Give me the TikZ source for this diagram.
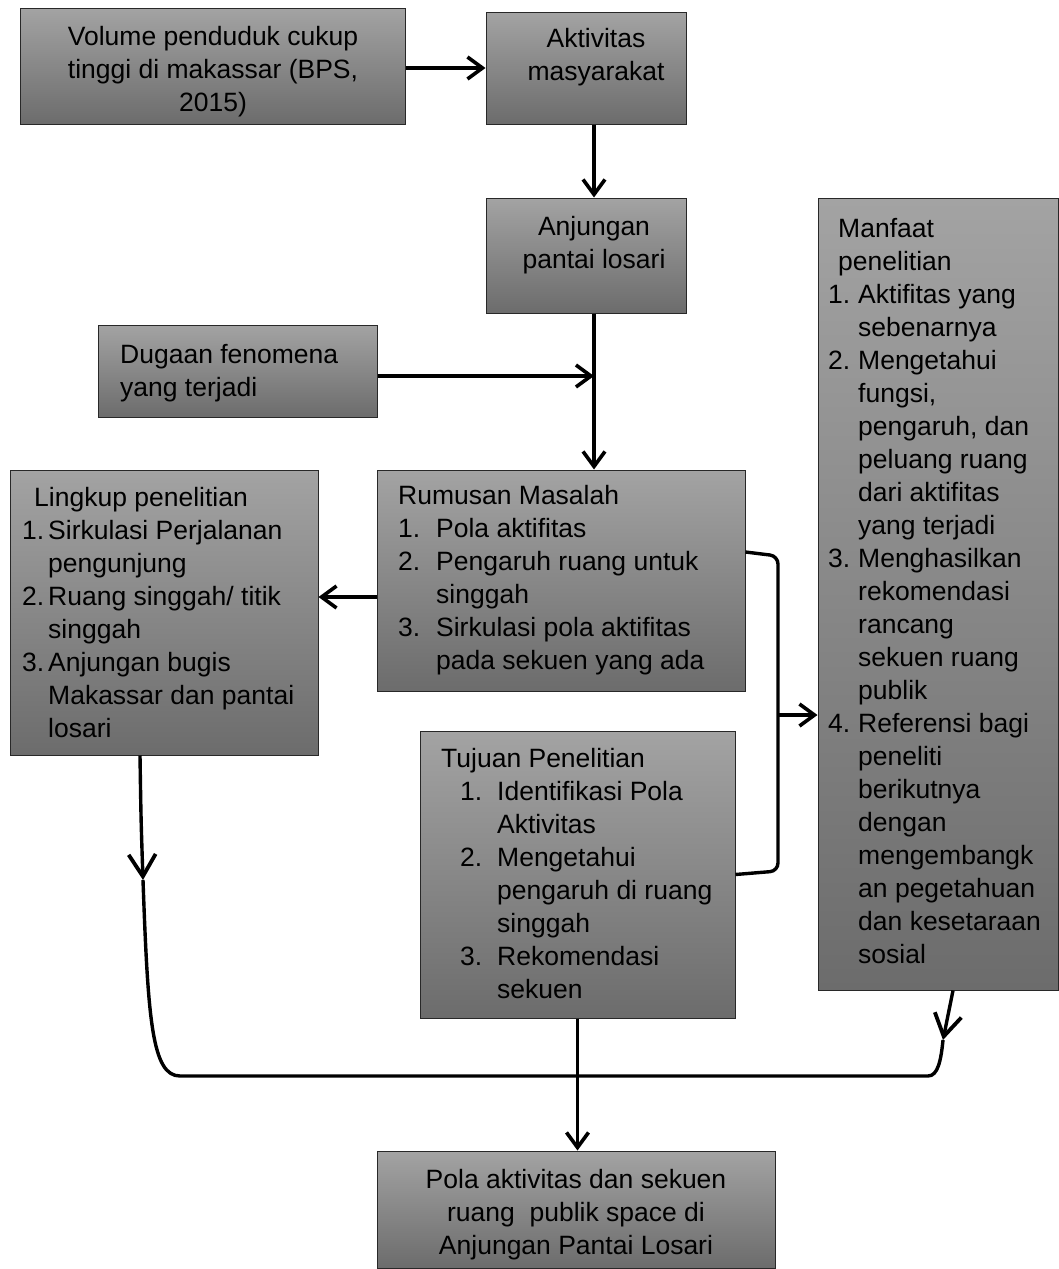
\documentclass[tikz,border=0pt]{standalone}
\usepackage{fontspec}
\setmainfont{Liberation Sans}
\usetikzlibrary{arrows.meta}
\definecolor{gtop}{RGB}{163,163,163}
\definecolor{gbot}{RGB}{108,108,108}
\definecolor{edgec}{RGB}{40,40,40}
\newcommand{\nb}[2]{\makebox[#1][l]{#2}}
\begin{document}
\begin{tikzpicture}[x=1pt,y=-1pt,
 box/.style={draw=edgec, line width=1pt, top color=gtop, bottom color=gbot, inner sep=0pt},
 txt/.style={inner sep=0pt, font=\fontsize{26.5}{33}\selectfont, text=black},
 conn/.style={line width=3.4pt, black},
 arr/.style={conn, -{Straight Barb[length=15pt,width=22pt,line width=3.6pt]}},
 bigarr/.style={conn, -{Straight Barb[length=22pt,width=27pt,line width=3.8pt]}}]
\useasboundingbox (0,0) rectangle (1059,1269);
% boxes
\node[box, minimum width=385pt, minimum height=116pt] (b1) at (212.5,66) {};
\node[box, minimum width=200pt, minimum height=112pt] (b2) at (586,68) {};
\node[box, minimum width=200pt, minimum height=115pt] (b3) at (586,255.5) {};
\node[box, minimum width=279pt, minimum height=92pt] (b4) at (237.5,371) {};
\node[box, minimum width=368pt, minimum height=221pt] (rum) at (561,580.5) {};
\node[box, minimum width=308pt, minimum height=285pt] (lin) at (164,612.5) {};
\node[box, minimum width=315pt, minimum height=287pt] (tuj) at (577.5,874.5) {};
\node[box, minimum width=240pt, minimum height=792pt] (man) at (938,594) {};
\node[box, minimum width=398pt, minimum height=117pt] (fin) at (576,1209.5) {};
% texts
\node[txt, align=center, anchor=north] (t1) at (213,26) {Volume penduduk cukup\\tinggi di makassar (BPS,\\2015)};
\node[txt, align=center, anchor=north] (t2) at (596,28) {Aktivitas\\masyarakat};
\node[txt, align=center, anchor=north] (t3) at (594,216) {Anjungan\\pantai losari};
\node[txt, align=left, anchor=north west] (t4) at (120,344) {Dugaan fenomena\\yang terjadi};
\node[txt, align=left, anchor=north west] (trum) at (398,485) {Rumusan Masalah\\
\nb{38pt}{1.}Pola aktifitas\\
\nb{38pt}{2.}Pengaruh ruang untuk\\
\hspace*{38pt}singgah\\
\nb{38pt}{3.}Sirkulasi pola aktifitas\\
\hspace*{38pt}pada sekuen yang ada};
\node[txt, align=left, anchor=north west] (tlin) at (22,487) {\hspace*{12pt}Lingkup penelitian\\
\nb{26pt}{1.}Sirkulasi Perjalanan\\
\hspace*{26pt}pengunjung\\
\nb{26pt}{2.}Ruang singgah/ titik\\
\hspace*{26pt}singgah\\
\nb{26pt}{3.}Anjungan bugis\\
\hspace*{26pt}Makassar dan pantai\\
\hspace*{26pt}losari};
\node[txt, align=left, anchor=north west] (ttuj) at (441,748) {Tujuan Penelitian\\
\hspace*{19pt}\nb{37pt}{1.}Identifikasi Pola\\
\hspace*{56pt}Aktivitas\\
\hspace*{19pt}\nb{37pt}{2.}Mengetahui\\
\hspace*{56pt}pengaruh di ruang\\
\hspace*{56pt}singgah\\
\hspace*{19pt}\nb{37pt}{3.}Rekomendasi\\
\hspace*{56pt}sekuen};
\node[txt, align=left, anchor=north west] (tman) at (828,218) {\hspace*{10pt}Manfaat\\
\hspace*{10pt}penelitian\\
\nb{30pt}{1.}Aktifitas yang\\
\hspace*{30pt}sebenarnya\\
\nb{30pt}{2.}Mengetahui\\
\hspace*{30pt}fungsi,\\
\hspace*{30pt}pengaruh, dan\\
\hspace*{30pt}peluang ruang\\
\hspace*{30pt}dari aktifitas\\
\hspace*{30pt}yang terjadi\\
\nb{30pt}{3.}Menghasilkan\\
\hspace*{30pt}rekomendasi\\
\hspace*{30pt}rancang\\
\hspace*{30pt}sekuen ruang\\
\hspace*{30pt}publik\\
\nb{30pt}{4.}Referensi bagi\\
\hspace*{30pt}peneliti\\
\hspace*{30pt}berikutnya\\
\hspace*{30pt}dengan\\
\hspace*{30pt}mengembangk\\
\hspace*{30pt}an pegetahuan\\
\hspace*{30pt}dan kesetaraan\\
\hspace*{30pt}sosial};
\node[txt, align=center, anchor=north] (tfin) at (576,1169) {Pola aktivitas dan sekuen\\ruang\ \ publik space di\\Anjungan Pantai Losari};
% helper coordinates
\coordinate (vx) at (594,376);
\coordinate (bx) at (778,715);
\coordinate (br1) at (778,556);
\coordinate (br2) at (778,871);
\coordinate (la) at (143,880);
\coordinate (lb) at (180,1076);
\coordinate (rb) at (928,1076);
\coordinate (ra) at (943,1040);
% connectors
\draw[arr] (b1.east |- b2.west) -- (b2.west);
\draw[arr] ([xshift=8pt]b2.south) -- ([xshift=8pt]b3.north);
\draw[arr] ([xshift=8pt]b3.south) -- ([xshift=8pt]b3.south |- rum.north);
\draw[arr] (b4.east |- vx) -- (vx);
\draw[arr] ([yshift=-16.5pt]rum.west) -- ([yshift=-16.5pt]rum.west -| lin.east);
\draw[conn, rounded corners=8pt] ([yshift=28.5pt]rum.east) -- (br1) -- (br2) -- (tuj.east);
\draw[arr] (bx) -- (bx -| man.west);
\draw[bigarr] ([xshift=-24pt]lin.south) .. controls (141,820) .. (la);
\draw[conn] (la) .. controls (148,1020) and (152,1076) .. (lb) -- (rb) .. controls (938,1076) and (941,1060) .. (ra);
\draw[bigarr] ([xshift=15pt]man.south) -- (ra);
\draw[arr] (tuj.south) -- (tuj.south |- fin.north);
\end{tikzpicture}
\end{document}
